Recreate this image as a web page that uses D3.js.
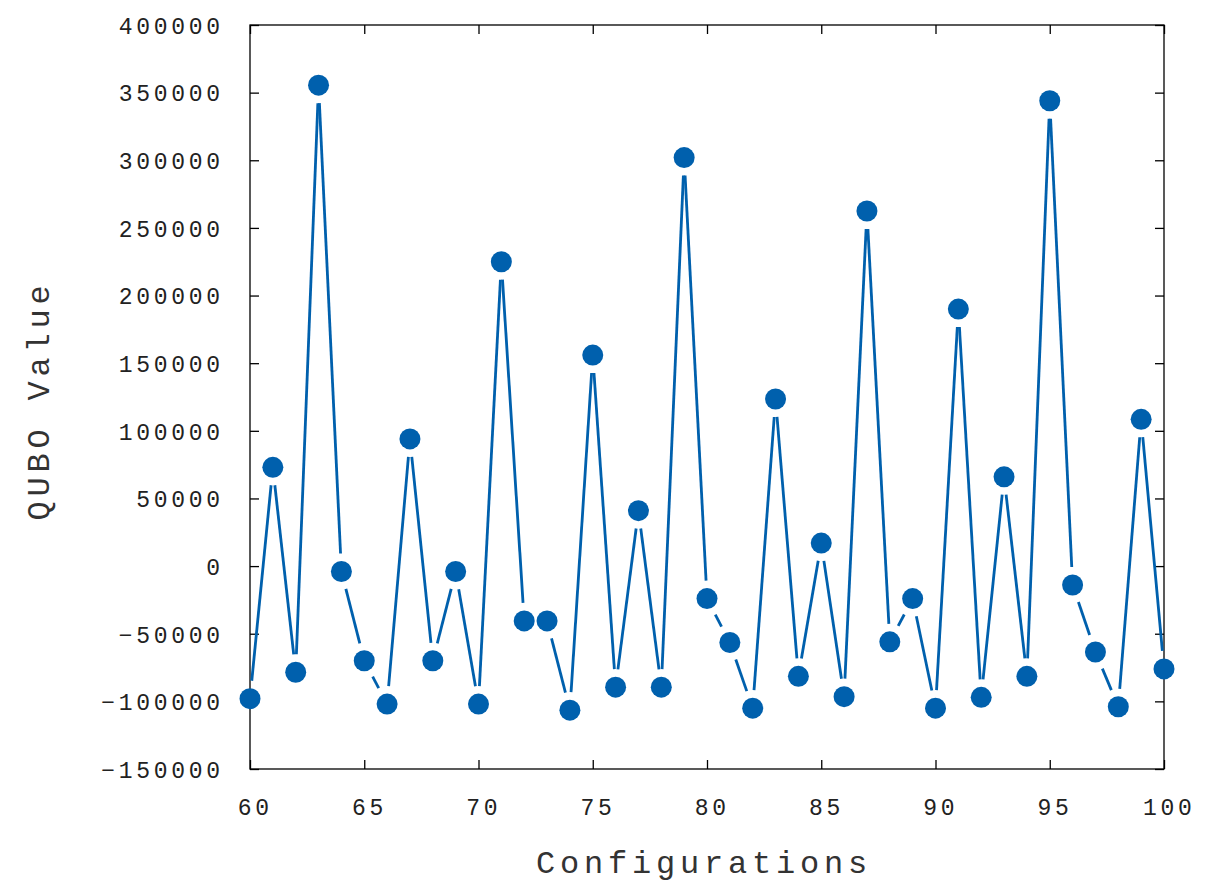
<!DOCTYPE html>
<html>
<head>
<meta charset="utf-8">
<script src="https://cdn.jsdelivr.net/npm/d3@7"></script>
<style>
  html, body { margin: 0; padding: 0; background: #fff; }
  svg { display: block; }
</style>
</head>
<body>
<svg id="chart" width="1216" height="882"></svg>
<script>
// ---- data ----
const configurations = d3.range(60, 101);
const quboValues = [
  -98000, 73000, -78500, 355500, -4000, -70000, -102000, 94000, -70000, -4000,
  -102000, 225000, -40500, -40500, -106500, 156000, -89500, 41000, -89500, 302000,
  -24000, -56500, -105000, 123500, -81500, 17000, -96500, 262500, -56000, -24000,
  -105000, 190000, -97000, 66000, -81500, 344000, -14000, -63500, -104000, 108500,
  -76000
];
const xTicks = [60, 65, 70, 75, 80, 85, 90, 95, 100];
const yTicks = [-150000, -100000, -50000, 0, 50000, 100000, 150000, 200000, 250000, 300000, 350000, 400000];
const xTitle = "Configurations";
const yTitle = "QUBO Value";

// ---- layout ----
const L = 250, R = 1164, T = 25, B = 769;
const color = "#0060ad";
const tickLen = 9;
const gap = 18;

const svg = d3.select("#chart");
const x = d3.scaleLinear().domain([60, 100]).range([L, R]);
const y = d3.scaleLinear().domain([-150000, 400000]).range([B, T]);

const labelFont = "'Liberation Mono', 'DejaVu Sans Mono', monospace";

// frame
svg.append("rect").attr("x", L).attr("y", T).attr("width", R - L).attr("height", B - T)
  .attr("fill", "none").attr("stroke", "#000").attr("stroke-width", 1.3);

// axes (inward ticks, mirrored)
const ls = 3.7;
const axB = d3.axisBottom(x).tickValues(xTicks).tickSizeInner(-tickLen).tickSizeOuter(0).tickPadding(0).tickFormat(d3.format("d"));
const axT = d3.axisTop(x).tickValues(xTicks).tickSizeInner(-tickLen).tickSizeOuter(0).tickFormat("");
const axLf = d3.axisLeft(y).tickValues(yTicks).tickSizeInner(-tickLen).tickSizeOuter(0).tickFormat(d3.format("d"));
const axRt = d3.axisRight(y).tickValues(yTicks).tickSizeInner(-tickLen).tickSizeOuter(0).tickFormat("");

function styleAxis(g) {
  g.select(".domain").remove();
  g.selectAll(".tick line").attr("stroke", "#000").attr("stroke-width", 1.3);
  g.selectAll("text").attr("fill", "#222").style("font-family", labelFont)
    .style("font-size", "23px").style("letter-spacing", ls + "px");
}

const gB = svg.append("g").attr("transform", `translate(0,${B})`).call(axB).call(styleAxis);
gB.selectAll(".tick text").attr("y", 46).attr("dy", 0).attr("dx", 3 + ls / 2);
svg.append("g").attr("transform", `translate(0,${T})`).call(axT).call(styleAxis);
const gL = svg.append("g").attr("transform", `translate(${L},0)`).call(axLf).call(styleAxis);
gL.selectAll(".tick text").attr("x", -30 + ls).attr("dy", "0.36em");
svg.append("g").attr("transform", `translate(${R},0)`).call(axRt).call(styleAxis);

// axis titles
svg.append("text").attr("x", (L + R) / 2 - 5.5 + 2.4).attr("y", 873)
  .attr("text-anchor", "middle").attr("fill", "#333")
  .style("font-family", labelFont).style("font-size", "32px").style("letter-spacing", "4.8px")
  .text(xTitle);
svg.append("text").attr("transform", `translate(49,${(T + B) / 2 + 1 + 2.4}) rotate(-90)`)
  .attr("text-anchor", "middle").attr("fill", "#333")
  .style("font-family", labelFont).style("font-size", "32px").style("letter-spacing", "4.8px")
  .text(yTitle);

// data points
const pts = configurations.map((c, i) => [x(c), y(quboValues[i])]);

// line segments with gaps around points
const segs = [];
for (let i = 0; i < pts.length - 1; i++) {
  const [x1, y1] = pts[i], [x2, y2] = pts[i + 1];
  const dx = x2 - x1, dy = y2 - y1, len = Math.hypot(dx, dy);
  if (len <= 2 * gap) continue;
  const ux = dx / len, uy = dy / len;
  segs.push([[x1 + ux * gap, y1 + uy * gap], [x2 - ux * gap, y2 - uy * gap]]);
}
const line = d3.line();
svg.append("g").selectAll("path").data(segs).join("path")
  .attr("d", d => line(d)).attr("fill", "none")
  .attr("stroke", color).attr("stroke-width", 2.8);

svg.append("g").selectAll("circle").data(pts).join("circle")
  .attr("cx", d => d[0]).attr("cy", d => d[1]).attr("r", 10.5)
  .attr("fill", color);
</script>
</body>
</html>
